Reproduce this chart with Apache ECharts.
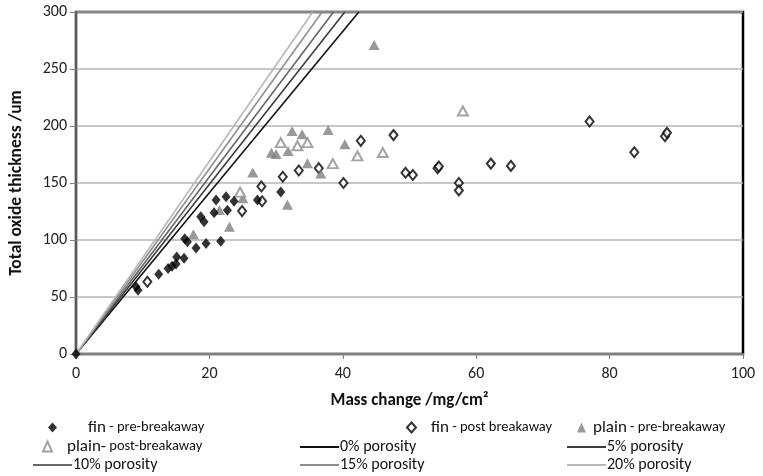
<!DOCTYPE html>
<html>
<head>
<meta charset="utf-8">
<script src="https://cdn.jsdelivr.net/npm/echarts@6/dist/echarts.min.js"></script>
<style>html,body{margin:0;padding:0;background:#fff}#c{width:763px;height:476px}</style>
</head>
<body>
<div id="c"></div>
<script>
var xTicks = [0, 20, 40, 60, 80, 100];
var yTicks = [0, 50, 100, 150, 200, 250, 300];

var finPre = [[0,0],[9.0,59],[9.3,56],[12.4,70],[13.8,75],[14.4,77],[15,79],[15.1,85],[16.2,84],[16.3,101],[16.7,98.5],[18,93],[18.7,120.5],[19.2,116],[19.5,97],[20.7,124],[21,135],[21.7,99],[22.5,138],[22.7,126],[23.7,134],[27.2,135],[30.7,142]];
var finPost = [[10.7,63.4],[24.9,125.4],[27.9,134],[27.8,147],[31,155.5],[33.4,161],[36.4,163],[40.1,150],[42.7,187],[47.6,192],[49.4,159],[50.5,157],[54.2,163],[54.4,164.5],[57.4,150],[57.4,143.5],[62.2,167],[65.2,165],[77,204],[83.7,177],[88.3,191],[88.6,194]];
var plainPre = [[17.6,105],[21.5,126.3],[23,111.7],[25,136.6],[26.5,159.3],[29.3,176.6],[30,175.4],[31.8,178],[31.7,131],[32.4,195.6],[33.9,192.7],[34.7,167.3],[36.7,158.4],[37.8,196.5],[40.3,184],[44.7,271]];
var plainPost = [[24.6,142],[30.7,185.4],[33.2,182.7],[34.7,185.4],[38.5,167],[42.2,173.8],[46,176.7],[58,213.2]];

var porosityNames = ['0% porosity','5% porosity','10% porosity','15% porosity','20% porosity'];
var porosityEndX = [42.4, 40.3, 38.6, 36.9, 35.5];
var porosityEndY = 300;
var porosityColors = ['#111111','#3c3c3c','#666666','#8f8f8f','#b8b8b8'];

var FONT = 'Carlito, Lato, sans-serif';
var chart = echarts.init(document.getElementById('c'));

var series = [];
porosityNames.forEach(function(n, i){
  series.push({
    name: n, type: 'line', symbol: 'none', silent: true,
    data: [[0,0],[porosityEndX[i], porosityEndY]],
    lineStyle: {color: porosityColors[i], width: 1.6},
    itemStyle: {color: porosityColors[i]}, z: 2
  });
});
series.push({name:'fin - pre-breakaway', type:'scatter', symbol:'diamond', symbolSize:[9,11], data: finPre, itemStyle:{color:'#000'}, z:5});
series.push({name:'fin - post breakaway', type:'scatter', symbol:'diamond', symbolSize:[8,10], data: finPost, itemStyle:{color:'#fff', borderColor:'#000', borderWidth:2}, z:4});
series.push({name:'plain - pre-breakaway', type:'scatter', symbol:'triangle', symbolSize:[11,10], data: plainPre, itemStyle:{color:'#7f7f7f'}, z:4});
series.push({name:'plain- post-breakaway', type:'scatter', symbol:'triangle', symbolSize:[10,9], data: plainPost, itemStyle:{color:'#fff', borderColor:'#8c8c8c', borderWidth:2}, z:4});

function rich(){
  return {
    a: {fontSize: 17, fontFamily: FONT, color: '#111', lineHeight: 18},
    b: {fontSize: 14.5, fontFamily: FONT, color: '#111', lineHeight: 18}
  };
}
function scatterLegend(name, left, top, pad, big, rest){
  return {
    data: [name], left: left, top: top, itemWidth: 9, itemHeight: 10, padding: 0,
    formatter: function(){ return '{a|' + big + '}{b|' + rest + '}'; },
    textStyle: {rich: rich(), padding: [0,0,0,pad]}
  };
}
function lineLegend(name, left, top){
  return {
    data: [{name: name, icon: 'rect'}], left: left, top: top, itemWidth: 39, itemHeight: 2, padding: 0, itemGap: 0,
    textStyle: {fontSize: 16, lineHeight: 18, fontFamily: FONT, color: '#111', padding: [0,0,0,-4]}
  };
}

chart.setOption({
  animation: false,
  backgroundColor: '#fff',
  grid: {left: 75, right: 20, top: 12, bottom: 122, show: true, borderColor: '#000', borderWidth: 2.5},
  xAxis: {
    type: 'value', min: 0, max: 100, interval: 20,
    name: 'Mass change /mg/cm²', nameLocation: 'middle', nameGap: 38,
    nameTextStyle: {fontSize: 17, fontWeight: 'bold', fontFamily: FONT, color: '#111'},
    axisLine: {show: true, lineStyle: {color: '#7f7f7f', width: 2}},
    axisTick: {show: true, length: 5, lineStyle: {color: '#7f7f7f', width: 1}},
    axisLabel: {fontSize: 16, fontFamily: FONT, color: '#222', margin: 12,
      formatter: function(v){ return xTicks.indexOf(v) >= 0 ? String(v) : ''; }},
    splitLine: {show: false}
  },
  yAxis: {
    type: 'value', min: 0, max: 300, interval: 50,
    name: 'Total oxide thickness /um', nameLocation: 'middle', nameGap: 50,
    nameTextStyle: {fontSize: 17.5, fontWeight: 'bold', fontFamily: FONT, color: '#111'},
    axisLine: {show: true, lineStyle: {color: '#5a5a5a', width: 2}},
    axisTick: {show: true, length: 6, lineStyle: {color: '#7f7f7f', width: 1}},
    axisLabel: {fontSize: 16, fontFamily: FONT, color: '#222', margin: 9,
      formatter: function(v){ return yTicks.indexOf(v) >= 0 ? String(v) : ''; }},
    splitLine: {show: true, lineStyle: {color: '#b4b4b4', width: 1.5}}
  },
  legend: [
    scatterLegend('fin - pre-breakaway', 48, 419, 26, 'fin', ' - pre-breakaway'),
    scatterLegend('fin - post breakaway', 406, 419, 10, 'fin', ' - post breakaway'),
    scatterLegend('plain - pre-breakaway', 577, 419, 2, 'plain', ' - pre-breakaway'),
    scatterLegend('plain- post-breakaway', 42, 438, 10, 'plain-', ' post-breakaway'),
    lineLegend('0% porosity', 300, 438),
    lineLegend('5% porosity', 567, 438),
    lineLegend('10% porosity', 33, 456),
    lineLegend('15% porosity', 300, 456),
    lineLegend('20% porosity', 567, 456)
  ],
  series: series
});
</script>
</body>
</html>
